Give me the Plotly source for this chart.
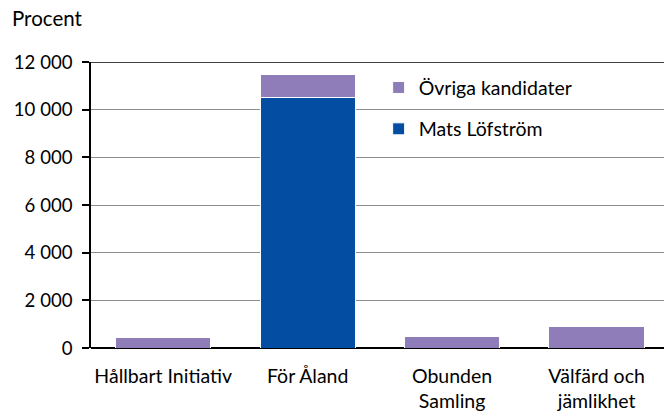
import plotly.graph_objects as go

categories = ["Hållbart Initiativ", "För Åland", "Obunden<br>Samling", "Välfärd och<br>jämlikhet"]
mats_lofstrom = [0, 10520, 0, 0]
ovriga_kandidater = [458, 940, 500, 905]
y_ticks = [0, 2000, 4000, 6000, 8000, 10000, 12000]
y_tick_labels = ["0", "2 000", "4 000", "6 000", "8 000", "10 000", "12 000"]

BLUE = "#034EA2"
PURPLE = "#8E7DB8"
FONT = "Lato"

fig = go.Figure()
fig.add_trace(go.Bar(
    x=categories, y=mats_lofstrom, name="Mats Löfström",
    marker=dict(color=BLUE, line=dict(color="white", width=1)),
    legendgroup="a", legendrank=2,
))
fig.add_trace(go.Bar(
    x=categories, y=ovriga_kandidater, name="Övriga kandidater",
    marker=dict(color=PURPLE, line=dict(color="white", width=1)),
    legendgroup="b", legendrank=1,
))

fig.update_layout(
    width=664, height=412,
    barmode="stack",
    bargap=0.34,
    plot_bgcolor="white", paper_bgcolor="white",
    margin=dict(l=91, r=0, t=62, b=62),
    font=dict(family=FONT, size=19.5, color="black"),
    showlegend=True,
    legend=dict(
        x=0.502, xanchor="left", y=0.978, yanchor="top",
        traceorder="grouped", tracegroupgap=13,
        bgcolor="rgba(0,0,0,0)", font=dict(size=19.5),
    ),
    xaxis=dict(
        range=[-0.5, 3.467], showgrid=False, showline=False,
        ticks="", ticklabelstandoff=14,
    ),
    yaxis=dict(
        range=[0, 12000], tickvals=y_ticks, ticktext=y_tick_labels,
        tickfont=dict(size=18.6),
        showgrid=True, gridcolor="#8C8C8C", gridwidth=1,
        showline=True, linecolor="black", linewidth=1.5,
        ticks="outside", ticklen=7, tickcolor="black", tickwidth=1.5,
        ticklabelstandoff=6,
        zeroline=True, zerolinecolor="black", zerolinewidth=1.5,
    ),
    shapes=[dict(type="line", xref="paper", yref="y", x0=0, x1=1, y0=12000, y1=12000,
                 line=dict(color="black", width=1.5))],
    annotations=[dict(text="Procent", xref="paper", yref="paper", x=-0.141, y=1.153,
                      xanchor="left", yanchor="middle", showarrow=False,
                      font=dict(size=20.5))],
)

fig.write_html("out.html", config={"displayModeBar": False},
               post_script="document.body.style.margin='0';document.body.style.overflow='hidden';")
